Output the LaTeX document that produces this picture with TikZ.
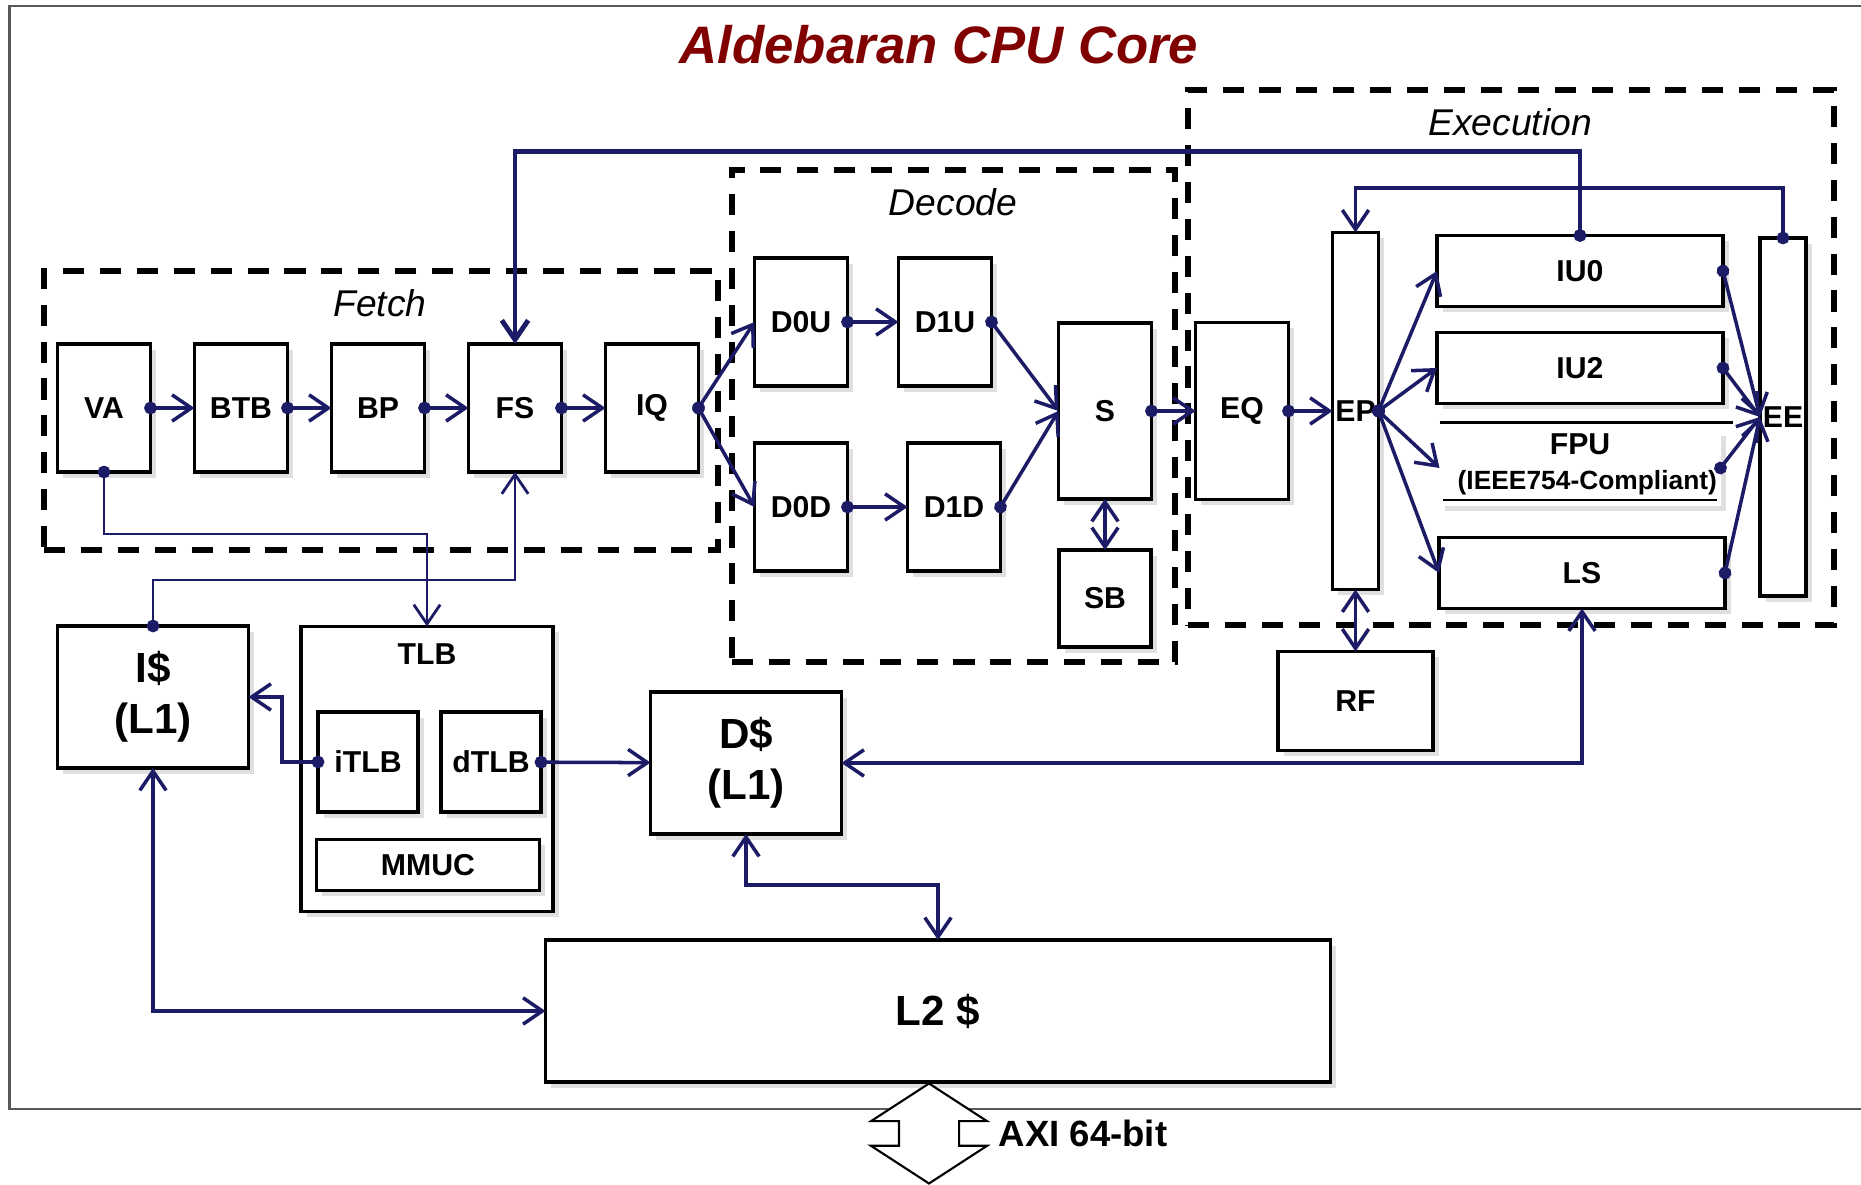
\documentclass[tikz,border=0pt]{standalone}
\usepackage{fontspec}
\setmainfont{Liberation Sans}
\usetikzlibrary{arrows.meta,positioning,fit,shadows,shapes.arrows}
\definecolor{wire}{RGB}{28,28,102}
\definecolor{titlered}{RGB}{128,0,0}
\definecolor{framegray}{gray}{0.35}
\tikzset{
  block/.style={
    rectangle, draw=black, fill=white, line width=1pt,
    minimum width=0.93cm, minimum height=1.28cm,
    align=center, inner sep=1pt, outer sep=0pt,
    font=\fontsize{8.6}{10}\selectfont\bfseries,
    drop shadow={shadow xshift=1.6pt, shadow yshift=-1.6pt, opacity=0.25}
  },
  bar/.style={block, minimum width=2.86cm, minimum height=0.71cm},
  column/.style={block, minimum width=0.46cm, minimum height=3.57cm, inner sep=0pt},
  cache/.style={block, minimum width=1.91cm, minimum height=1.42cm,
    font=\fontsize{12}{14.5}\selectfont\bfseries},
  group/.style={draw=black, line width=1.5pt, dash pattern=on 6pt off 4.5pt, inner sep=0pt},
  grouplabel/.style={font=\fontsize{10.6}{12}\selectfont\itshape},
  link/.style={draw=wire, line width=1pt,
    arrows={Circle[length=3.6pt]-Straight Barb[length=5.5pt,width=7.5pt]},
    shorten <=-1.8pt},
  both/.style={draw=wire, line width=1pt,
    arrows={Straight Barb[length=5.5pt,width=7.5pt]-Straight Barb[length=5.5pt,width=7.5pt]}}
}

\begin{document}
\begin{tikzpicture}[node distance=0.44cm]
  \useasboundingbox (0,0) rectangle (18.61,-11.845);
  \draw[framegray, line width=0.6pt] (18.61,-0.06) -- (0.095,-0.06) -- (0.095,-11.086) -- (18.61,-11.086);

  \node[font=\fontsize{15}{18}\selectfont\bfseries\itshape, text=titlered] (title) at (9.39,-0.45) {Aldebaran CPU Core};

  % pipeline groups
  \node[group, fit={(0.44,-2.71) (7.18,-5.50)}] (fetch) {};
  \node[group, fit={(7.32,-1.70) (11.75,-6.62)}] (decode) {};
  \node[group, fit={(11.88,-0.90) (18.34,-6.25)}] (exec) {};
  \node[grouplabel] (fetchname) at (3.80,-3.03) {Fetch};
  \node[grouplabel] (decodename) at (9.53,-2.02) {Decode};
  \node[grouplabel] (execname) at (15.10,-1.22) {Execution};

  % fetch
  \node[block] (va) at (1.04,-4.08) {VA};
  \node[block, right=of va] (btb) {BTB};
  \node[block, right=of btb] (bp) {BP};
  \node[block, right=of bp] (fs) {FS};
  \node[block, right=of fs] (iq) {IQ};

  % decode
  \node[block] (d0u) at (8.01,-3.22) {D0U};
  \node[block, right=0.51cm of d0u] (d1u) {D1U};
  \node[block, below=0.57cm of d0u] (d0d) {D0D};
  \node[block, right=0.6cm of d0d] (d1d) {D1D};
  \node[block, minimum height=1.76cm] (s) at (11.05,-4.11) {S};
  \node[block, minimum width=0.92cm, minimum height=0.97cm, below=0.51cm of s] (sb) {SB};

  % execution
  \node[block, minimum height=1.77cm, right=of s] (eq) {EQ};
  \node[column, right=of eq] (ep) {EP};
  \node[bar] (iu0) at (15.80,-2.71) {IU0};
  \node[bar, below=0.26cm of iu0] (iu2) {IU2};
  \node[bar, draw=none, minimum width=2.81cm, minimum height=0.70cm] (fpu) at (15.80,-4.68)
    {FPU\\{\fontsize{7.5}{9}\selectfont\underline{\ \ (IEEE754-Compliant)}}};
  \node[bar] (ls) at (15.82,-5.73) {LS};
  \node[column, minimum height=3.58cm] (ee) at (17.83,-4.17) {EE};
  \node[block, minimum width=1.55cm, minimum height=0.99cm, below=0.62cm of ep] (rf) {RF};
  \draw[line width=0.8pt] ([yshift=0.08cm]fpu.north west) -- ([xshift=0.12cm,yshift=0.08cm]fpu.north east);

  % memory side
  \node[cache] (icache) at (1.53,-6.97) {I\$\\(L1)};
  \node[block, minimum width=2.52cm, minimum height=2.85cm] (tlb) at (4.27,-7.69) {};
  \node[font=\fontsize{8.6}{10}\selectfont\bfseries] (tlbname) at ([yshift=-0.28cm]tlb.north) {TLB};
  \node[block, minimum width=1cm, minimum height=1cm] (itlb) at (3.68,-7.62) {iTLB};
  \node[block, minimum width=1cm, minimum height=1cm, right=0.23cm of itlb] (dtlb) {dTLB};
  \node[block, minimum width=2.23cm, minimum height=0.51cm] (mmuc) at (4.28,-8.65) {MMUC};
  \node[cache] (dcache) at (7.46,-7.63) {D\$\\(L1)};
  \node[cache, minimum width=7.85cm] (l2) at (9.38,-10.11) {L2 \$};

  \node[double arrow, draw=black, fill=white, line width=0.6pt, rotate=90,
    inner xsep=0pt, inner ysep=0.29cm,
    minimum height=1.0cm, minimum width=1.14cm, double arrow head extend=0.28cm,
    double arrow tip angle=114] (axi) at (9.29,-11.335) {};
  \node[font=\fontsize{10.4}{12}\selectfont\bfseries, anchor=west, inner sep=0pt] (axiname) at (9.98,-11.335) {AXI 64-bit};

  % connectors
  \draw[link] (va) -- (btb);
  \draw[link] (btb) -- (bp);
  \draw[link] (bp) -- (fs);
  \draw[link] (fs) -- (iq);
  \draw[link] (iq.east) -- (d0u.west);
  \draw[link] (iq.east) -- (d0d.west);
  \draw[link] (d0u) -- (d1u);
  \draw[link] (d0d) -- (d1d);
  \draw[link] (d1u.east) -- (s.west);
  \draw[link] (d1d.east) -- (s.west);
  \draw[link] (s) -- (eq);
  \draw[both] (s) -- (sb);
  \draw[link] (eq) -- (ep);
  \draw[link] (ep.east) -- (iu0.west);
  \draw[link] (ep.east) -- (iu2.west);
  \draw[link] (ep.east) -- (fpu.west);
  \draw[link] (ep.east) -- (ls.west);
  \draw[link] (iu0.east) -- (ee.west);
  \draw[link] (iu2.east) -- (ee.west);
  \draw[link] (fpu.east) -- (ee.west);
  \draw[link] (ls.east) -- (ee.west);
  \draw[link] (ee.north) -- ++(0,0.5) -| (ep.north);
  \draw[link, line width=1.4pt] (iu0.north) -- ++(0,0.84) -| (fs.north);
  \draw[both] (ep) -- (rf);
  \draw[link, line width=0.8pt] (va.south) -- ++(0,-0.62) -| (tlb.north);
  \draw[link, line width=0.8pt] (icache.north) -- ++(0,0.46) -| (fs.south);
  \draw[link] (itlb.west) -- ++(-0.36,0) |- (icache.east);
  \draw[link] (dtlb) -- (dcache);
  \draw[both] (dcache.east) -| (ls.south);
  \draw[both] (dcache.south) -- ++(0,-0.51) -| (l2.north);
  \draw[both] (icache.south) |- (l2.west);
\end{tikzpicture}
\end{document}
